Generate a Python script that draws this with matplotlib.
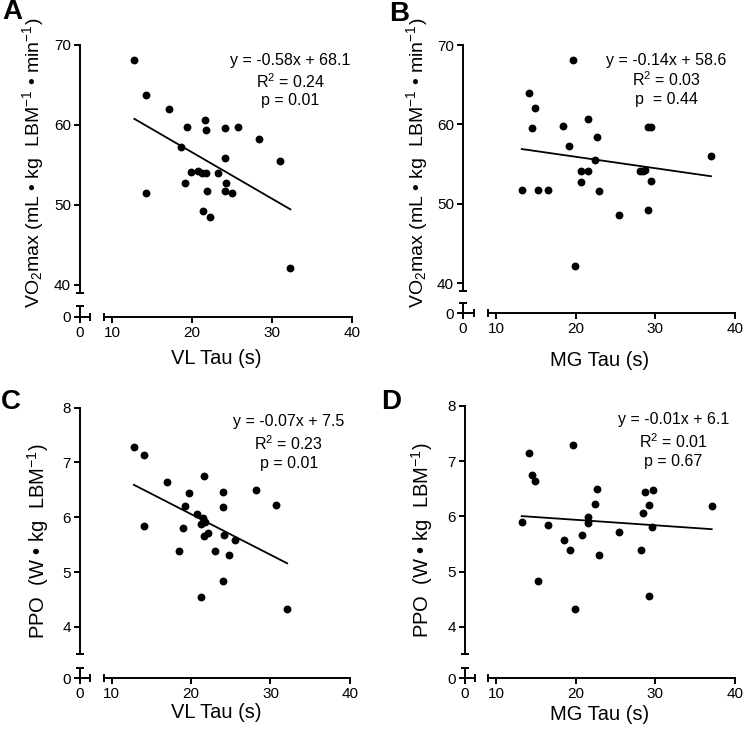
import numpy as np
import matplotlib
matplotlib.use('Agg')
import matplotlib.pyplot as plt

plt.rcParams['font.family'] = ['Liberation Sans', 'DejaVu Sans']
plt.rcParams['mathtext.fontset'] = 'custom'
plt.rcParams['mathtext.rm'] = 'Liberation Sans'
plt.rcParams['mathtext.it'] = 'Liberation Sans:italic'
plt.rcParams['mathtext.bf'] = 'Liberation Sans:bold'

# Panel A: VL tau vs VO2max
vl_tau_a = [12.8, 14.2, 14.2, 17.1, 18.6, 19.4, 19.1, 19.9, 20.8, 21.3, 21.8, 21.6, 21.7,
            21.9, 21.4, 22.2, 23.2, 24.1, 24.1, 24.3, 24.1, 25.0, 25.7, 28.4, 31.0, 32.3]
vo2_a = [68.1, 63.8, 51.5, 62.0, 57.3, 59.7, 52.8, 54.1, 54.3, 54.0, 54.0, 60.6, 59.4,
         51.8, 49.2, 48.5, 54.0, 59.6, 55.9, 52.7, 51.8, 51.5, 59.8, 58.3, 55.5, 42.1]

# Panel B: MG tau vs VO2max
mg_tau_b = [19.6, 14.1, 14.9, 14.5, 13.2, 15.2, 16.5, 18.4, 19.2, 21.5, 20.7, 21.5, 20.7,
            19.9, 22.7, 22.4, 22.9, 25.4, 28.1, 28.45, 28.7, 29.1, 29.5, 29.5, 29.1, 37.0]
vo2_b = [68.1, 63.9, 62.1, 59.5, 51.8, 51.7, 51.7, 59.8, 57.3, 60.7, 54.1, 54.1, 52.7,
         42.2, 58.4, 55.5, 51.6, 48.6, 54.1, 54.1, 54.2, 59.7, 59.65, 52.85, 49.2, 56.0]

# Panel C: VL tau vs PPO
vl_tau_c = [12.8, 14.1, 14.1, 17.0, 18.5, 19.25, 19.0, 19.8, 20.7, 21.3, 21.5, 21.6, 21.7,
            21.6, 22.1, 21.25, 23.0, 24.0, 24.0, 24.2, 24.0, 24.8, 25.5, 28.2, 30.7, 32.1]
ppo_c = [7.29, 7.13, 5.85, 6.64, 5.39, 6.21, 5.81, 6.44, 6.06, 5.88, 5.99, 6.75, 5.91,
         5.66, 5.72, 4.55, 5.39, 6.47, 6.19, 5.68, 4.83, 5.31, 5.59, 6.49, 6.22, 4.33]

# Panel D: MG tau vs PPO
mg_tau_d = [13.2, 14.1, 14.5, 14.9, 15.25, 16.5, 18.5, 19.3, 19.6, 19.95, 20.8, 21.6, 21.5,
            22.4, 22.7, 22.9, 25.4, 28.2, 28.45, 28.75, 29.7, 29.25, 29.6, 29.2, 37.1]
ppo_d = [5.89, 7.14, 6.75, 6.65, 4.83, 5.84, 5.58, 5.39, 7.29, 4.32, 5.66, 5.99, 5.88,
         6.22, 6.49, 5.30, 5.72, 5.39, 6.06, 6.45, 6.47, 6.21, 5.81, 4.55, 6.19]

# regression lines (slope, intercept)
fit_a = (-0.58, 68.19)
fit_b = (-0.144, 58.8)
fit_c = (-0.0742, 7.542)
fit_d = (-0.0099, 6.136)

stats_a = ['y = -0.58x + 68.1', 'R$^2$ = 0.24', 'p = 0.01']
stats_b = ['y = -0.14x + 58.6', 'R$^2$ = 0.03', 'p  = 0.44']
stats_c = ['y = -0.07x + 7.5', 'R$^2$ = 0.23', 'p = 0.01']
stats_d = ['y = -0.01x + 6.1', 'R$^2$ = 0.01', 'p = 0.67']

xticks = [0, 10, 20, 30, 40]
yticks_vo2 = [0, 40, 50, 60, 70]
yticks_ppo = [0, 4, 5, 6, 7, 8]

ylabel_vo2 = r'VO$_2$max (mL • kg  LBM$^{-1}$ • min$^{-1}$)'
ylabel_ppo = r'PPO  (W • kg  LBM$^{-1}$)'

W, H = 746, 731
LW = 1.4
fig = plt.figure(figsize=(W / 100, H / 100), dpi=100)


def broken(lo, hi, gap):
    # piecewise scale that squeezes the range lo..hi into a short gap
    xin = [lo - 1000, lo, hi, hi + 1000]
    xout = [lo - 1000, lo, lo + gap, lo + gap + 1000]
    return (lambda v: np.interp(v, xin, xout), lambda v: np.interp(v, xout, xin))


def panel(x, y, fit, stats, stat_pos, yticks, xbrk, ybrk, x0px, sx, y0px, sy):
    xlo, xhi, xgap = xbrk
    ylo, yhi, ygap = ybrk
    fx = broken(xlo, xhi, xgap)
    fy = broken(ylo, yhi, ygap)
    xl, xr = -1.5, 41
    ytop = yticks[-1]
    yb, yt = -ylo * 1.2, ytop + (ytop - yhi) * 0.03
    left = x0px + float(fx[0](xl)) * sx
    width = float(fx[0](xr) - fx[0](xl)) * sx
    bot = y0px - float(fy[0](yb)) * sy
    height = float(fy[0](yt) - fy[0](yb)) * sy
    ax = fig.add_axes([left / W, 1 - bot / H, width / W, height / H])
    ax.set_xscale('function', functions=fx)
    ax.set_yscale('function', functions=fy)
    ax.set_xlim(xl, xr)
    ax.set_ylim(yb, yt)
    ax.patch.set_visible(False)

    for s in ['top', 'right']:
        ax.spines[s].set_visible(False)
    ax.spines['left'].set_position(('data', 0))
    ax.spines['left'].set_bounds(yhi, ytop)
    ax.spines['bottom'].set_position(('data', 0))
    ax.spines['bottom'].set_bounds(xhi, 40)
    for s in ['left', 'bottom']:
        ax.spines[s].set_linewidth(LW)
    # short pieces of the axes near zero, with caps at the breaks
    ax.plot([0, xlo], [0, 0], color='k', lw=LW, clip_on=False, solid_capstyle='butt')
    ax.plot([0, 0], [0, ylo], color='k', lw=LW, clip_on=False, solid_capstyle='butt')
    ax.plot([xlo, xhi], [0, 0], ls='none', marker='|', ms=5.5, mew=LW, color='k', clip_on=False)
    ax.plot([0, 0], [ylo, yhi], ls='none', marker='_', ms=5.5, mew=LW, color='k', clip_on=False)

    ax.set_xticks(xticks)
    ax.set_xticklabels([str(t) for t in xticks])
    ax.set_yticks(yticks)
    ax.set_yticklabels([str(t) for t in yticks])
    ax.minorticks_off()
    ax.tick_params(direction='out', length=4.5, width=LW, labelsize=11, pad=2)

    ax.scatter(x, y, s=32, color='k', linewidths=0, zorder=3, clip_on=False)
    xs = np.array([min(x), max(x)])
    ax.plot(xs, fit[0] * xs + fit[1], color='k', lw=1.3)

    tx, tys = stat_pos
    for txt, ty in zip(stats, tys):
        ax.text(tx, ty, txt, ha='center', va='center', fontsize=11.5)
    return ax


panel(vl_tau_a, vo2_a, fit_a, stats_a, (32.3, [68.1, 65.4, 63.1]), yticks_vo2,
      (1.25, 9, 1.75), (1.4, 39, 1.6), 80, 8.0, 317, 8.0)
panel(mg_tau_b, vo2_b, fit_b, stats_b, (31.4, [68.1, 65.6, 63.1]), yticks_vo2,
      (1.4, 9, 1.79), (1.35, 39, 1.44), 463, 7.95, 313.3, 7.94)
panel(vl_tau_c, ppo_c, fit_c, stats_c, (32.3, [7.74, 7.35, 6.99]), yticks_ppo,
      (1.25, 9, 1.74), (0.19, 3.5, 0.248), 80, 7.94, 678.3, 54.8)
panel(mg_tau_d, ppo_d, fit_d, stats_d, (32.3, [7.75, 7.35, 6.99]), yticks_ppo,
      (1.3, 9, 1.67), (0.19, 3.5, 0.243), 464.7, 7.95, 678.3, 55.2)


def ftext(px, py, s, **kw):
    fig.text(px / W, 1 - py / H, s, ha='center', va='center', **kw)


ftext(216, 358, 'VL Tau (s)', fontsize=14.5)
ftext(600, 361, 'MG Tau (s)', fontsize=14.5)
ftext(216, 712, 'VL Tau (s)', fontsize=14.5)
ftext(600, 714, 'MG Tau (s)', fontsize=14.5)
ftext(33, 163, ylabel_vo2, fontsize=14, rotation=90)
ftext(417, 163, ylabel_vo2, fontsize=14, rotation=90)
ftext(38, 541, ylabel_ppo, fontsize=14.5, rotation=90)
ftext(422, 540, ylabel_ppo, fontsize=14.5, rotation=90)

for letter, px, py in [('A', 12, 12), ('B', 399, 14), ('C', 11, 402), ('D', 391, 402)]:
    ftext(px, py, letter, fontsize=20, fontweight='bold')

fig.savefig('out.png', dpi=100)
